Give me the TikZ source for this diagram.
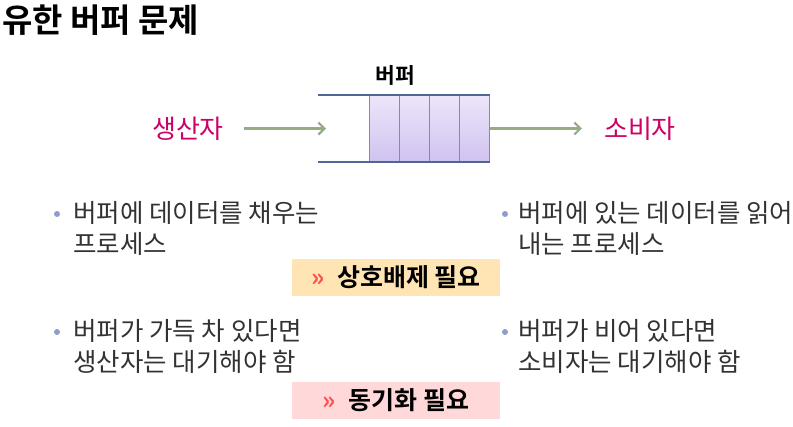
\documentclass[tikz,border=0pt]{standalone}
\usepackage{fontspec}
\setmainfont{Noto Sans CJK KR}[BoldFont={Noto Sans CJK KR Bold}]
\usepackage{xcolor}
\usepackage{tikz}
\usetikzlibrary{arrows.meta,positioning}
\definecolor{inkgray}{RGB}{50,50,50}
\definecolor{rolemag}{RGB}{204,0,102}
\definecolor{railblue}{RGB}{79,103,150}
\definecolor{cellline}{RGB}{150,125,190}
\definecolor{celltop}{RGB}{236,230,250}
\definecolor{cellbot}{RGB}{208,194,240}
\definecolor{flowgreen}{RGB}{150,172,132}
\definecolor{dotblue}{RGB}{138,160,200}
\definecolor{softorange}{RGB}{255,229,180}
\definecolor{softpink}{RGB}{255,216,218}
\definecolor{chevred}{RGB}{255,80,80}
\tikzset{
  heading/.style={anchor=west,inner sep=0pt,font=\fontsize{33}{36}\selectfont\bfseries},
  role/.style={inner sep=0pt,text=rolemag,font=\fontsize{26}{28}\selectfont},
  slot/.style={rectangle,draw=cellline,line width=1pt,top color=celltop,bottom color=cellbot,
              minimum width=30pt,minimum height=67pt,inner sep=0pt},
  rail/.style={draw=railblue,line width=2.5pt},
  flow/.style={-{Straight Barb[length=6pt,width=12pt]},draw=flowgreen,line width=2.2pt},
  item/.style={anchor=north west,inner sep=0pt,align=left,text=inkgray,
              font=\fontsize{25.5}{31}\selectfont},
  dot/.style={circle,fill=dotblue,inner sep=0pt,minimum size=6pt},
  need/.style={rectangle,minimum width=208pt,minimum height=37pt,inner sep=0pt,
              font=\fontsize{25}{28}\selectfont\bfseries},
}
\begin{document}
\begin{tikzpicture}[x=1pt,y=-1pt]
  \useasboundingbox (0,0) rectangle (793,426);
  \node[heading] (title) at (2,20) {유한 버퍼 문제};

  % buffer
  \foreach \i in {1,...,4}
    \node[slot] (slot\i) at ({354+30*\i},128.5) {};
  \coordinate (railtop) at (318,95);
  \coordinate (railbot) at (318,162);
  \draw[rail] (railtop) -- (railtop -| slot4.east);
  \draw[rail] (railbot) -- (railbot -| slot4.east);
  \node[font=\fontsize{21.5}{24}\selectfont\bfseries,inner sep=0pt] (buflabel) at (395,75) {버퍼};

  \node[role] (prod) at (188,128.5) {생산자};
  \node[role] (cons) at (640,128.5) {소비자};
  \coordinate (bufin) at (326,128.5);
  \draw[flow,shorten <=20pt] (prod) -- (bufin);
  \draw[flow,shorten >=22pt] (slot4) -- (cons);

  % bullets
  \node[dot] (dot1) at (57,214) {};
  \node[item] (fill) at (73,201) {버퍼에 데이터를 채우는\\프로세스};
  \node[dot] (dot2) at (505,214) {};
  \node[item] (read) at (518,201) {버퍼에 있는 데이터를 읽어\\내는 프로세스};
  \node[dot] (dot3) at (57,332) {};
  \node[item] (full) at (73,319) {버퍼가 가득 차 있다면\\생산자는 대기해야 함};
  \node[dot] (dot4) at (505,332) {};
  \node[item] (empty) at (518,319) {버퍼가 비어 있다면\\소비자는 대기해야 함};

  \node[need,fill=softorange] (mutex) at (396,277.5) {\textcolor{chevred}{»}\enspace 상호배제 필요};
  \node[need,fill=softpink] (sync) at (396,400.5) {\textcolor{chevred}{»}\enspace 동기화 필요};
\end{tikzpicture}
\end{document}
